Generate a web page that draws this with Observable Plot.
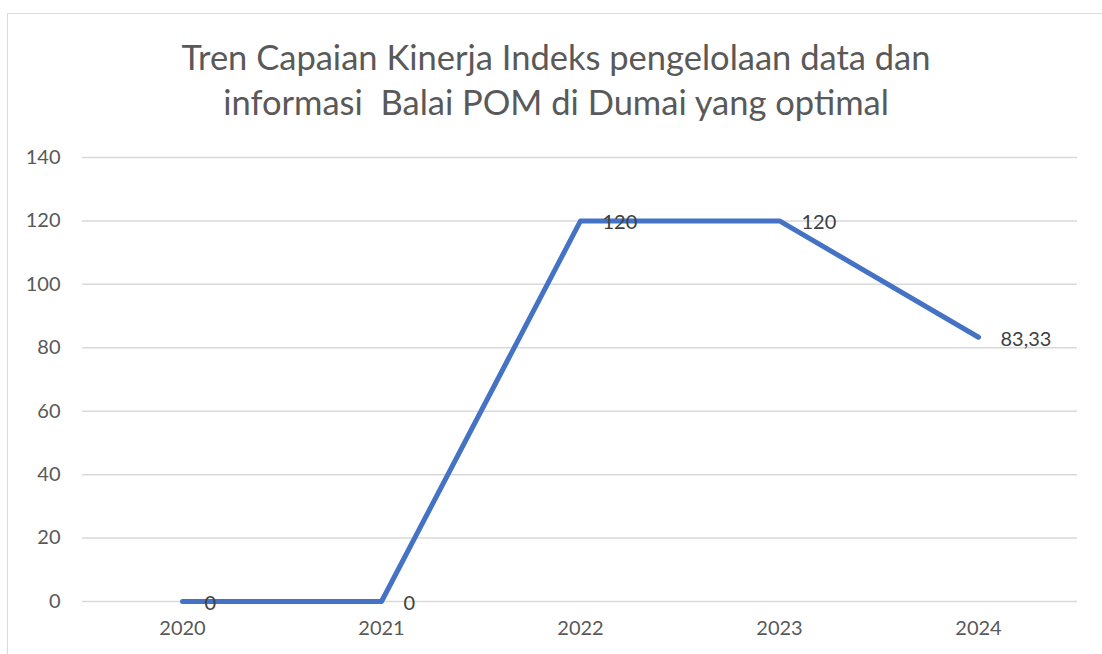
<!DOCTYPE html>
<html>
<head>
<meta charset="utf-8">
<script src="https://cdn.jsdelivr.net/npm/d3@7"></script>
<script src="https://cdn.jsdelivr.net/npm/@observablehq/plot@0.6"></script>
<style>
  html, body { margin: 0; padding: 0; background: #fff; }
  #wrap { position: relative; width: 1102px; height: 654px; overflow: hidden; background: #fff; }
  #frame { position: absolute; left: 7px; top: 13px; width: 1110px; height: 660px; border: 1px solid #d9d9d9; box-sizing: border-box; }
  #title { position: absolute; left: 0; top: 34px; width: 1112px; text-align: center; font-family: Lato, "Open Sans", sans-serif; font-size: 34.5px; line-height: 45px; color: #595959; }
  #chart { position: absolute; left: 0; top: 140px; }
</style>
</head>
<body>
<div id="wrap">
  <div id="frame"></div>
  <div id="title">Tren Capaian Kinerja Indeks pengelolaan data dan<br>informasi&nbsp; Balai POM di Dumai yang optimal</div>
  <div id="chart"></div>
</div>
<script>
const years = ["2020", "2021", "2022", "2023", "2024"];
const values = [0, 0, 120, 120, 83.33];
const yTicks = [0, 20, 40, 60, 80, 100, 120, 140];

const data = years.map((y, i) => ({year: y, value: values[i]}));
const fmt = v => String(v).replace(".", ",");

const plot = Plot.plot({
  width: 1102,
  height: 514,
  marginTop: 17,
  marginBottom: 53,
  marginLeft: 82,
  marginRight: 25,
  style: {fontFamily: "Lato, 'Open Sans', sans-serif", fontSize: "20px", color: "#595959", background: "transparent"},
  x: {type: "point", domain: years, padding: 0.5, label: null, tickSize: 0, tickPadding: 19},
  y: {domain: [0, 140], ticks: yTicks, label: null, tickSize: 0, tickPadding: 22},
  marks: [
    Plot.ruleY(yTicks, {stroke: "#d9d9d9", strokeWidth: 1.5}),
    Plot.axisY({ticks: yTicks, tickSize: 0, tickPadding: 22, label: null, fill: "#595959", fontSize: 20}),
    Plot.axisX({tickSize: 0, tickPadding: 19, label: null, fill: "#595959", fontSize: 20}),
    Plot.line(data, {x: "year", y: "value", stroke: "#4472C4", strokeWidth: 5, strokeLinecap: "round", strokeLinejoin: "round"}),
    Plot.text(data, {x: "year", y: "value", text: d => fmt(d.value), textAnchor: "start", dx: 22, dy: 2, fill: "#404040", fontSize: 20})
  ]
});
document.getElementById("chart").appendChild(plot);
</script>
</body>
</html>
